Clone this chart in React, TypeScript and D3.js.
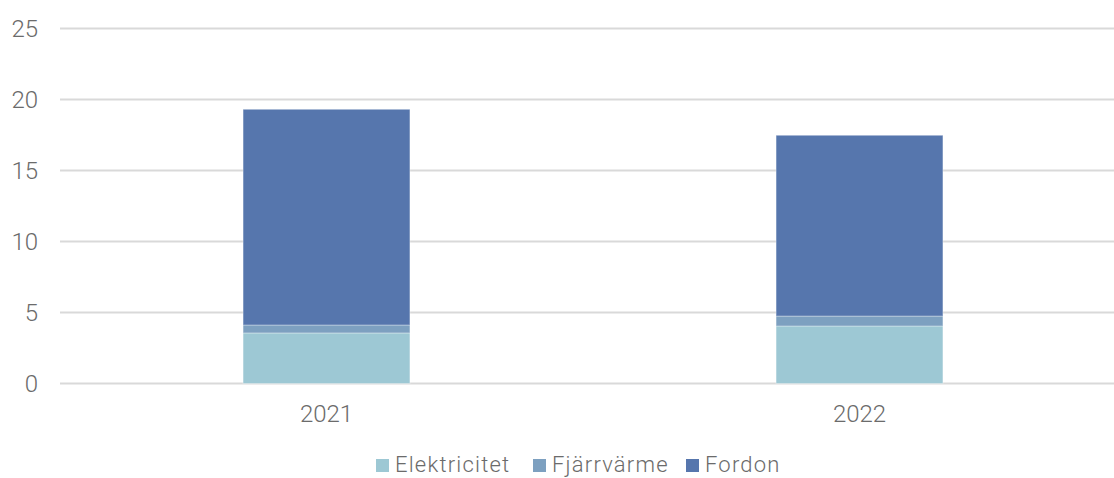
import React from "react";
import * as d3 from "d3";

const categories = ["2021", "2022"];
const seriesNames = ["Elektricitet", "Fjärrvärme", "Fordon"];
const elektricitet = [3.56, 4.05];
const fjarrvarme = [0.56, 0.7];
const fordon = [15.19, 12.73];
const yTicks = [0, 5, 10, 15, 20, 25];
const colors = ["#9DC8D4", "#7DA0C0", "#5676AD"];

const W = 1114;
const H = 478;
const FONT = "Roboto, sans-serif";
const TEXT = "#6b6b6b";

export default function App() {
  const y = d3.scaleLinear().domain([0, 25]).range([383.5, 28.5]);
  const x = d3.scaleBand().domain(categories).range([60, 1126]).paddingInner(0).paddingOuter(0);
  const barW = x.bandwidth() * 0.313;
  const rows = categories.map((c, i) => ({
    cat: c,
    Elektricitet: elektricitet[i],
    Fjärrvärme: fjarrvarme[i],
    Fordon: fordon[i],
  }));
  const stack = d3.stack<any>().keys(seriesNames)(rows);

  const legendX = [376, 533, 686];

  return (
    <svg width={W} height={H} style={{ position: "absolute", left: 0, top: 0, background: "#fff" }}>
      {yTicks.map((t) => (
        <g key={t}>
          <line x1={60} x2={W} y1={y(t)} y2={y(t)} stroke="#d9d9d9" strokeWidth={2} />
          <text x={38} y={y(t)} dy="0.36em" textAnchor="end" fontFamily={FONT} fontWeight={300} fontSize={24} fill={TEXT}>
            {t}
          </text>
        </g>
      ))}
      {stack.map((s, si) => (
        <g key={s.key}>
          {s.map((d, i) => {
            const cx = x(categories[i])! + x.bandwidth() / 2;
            return (
              <rect
                key={i}
                x={cx - barW / 2}
                y={y(d[1])}
                width={barW}
                height={y(d[0]) - y(d[1])}
                fill={colors[si]}
                stroke="#ffffff"
                strokeOpacity={0.35}
                strokeWidth={1}
              />
            );
          })}
        </g>
      ))}
      {categories.map((c) => (
        <text key={c} x={x(c)! + x.bandwidth() / 2} y={422} textAnchor="middle" fontFamily={FONT} fontWeight={300} fontSize={24} fill={TEXT}>
          {c}
        </text>
      ))}
      {seriesNames.map((n, i) => (
        <g key={n}>
          <rect x={legendX[i]} y={459} width={13} height={13} fill={colors[i]} />
          <text x={legendX[i] + 19} y={472} fontFamily={FONT} fontWeight={300} fontSize={22} letterSpacing={1.2} fill={TEXT}>
            {n}
          </text>
        </g>
      ))}
    </svg>
  );
}
